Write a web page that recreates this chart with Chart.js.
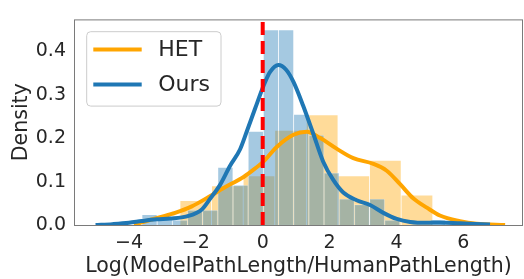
<!DOCTYPE html>
<html>
<head>
<meta charset="utf-8">
<script src="https://cdn.jsdelivr.net/npm/chart.js@4.4.0/dist/chart.umd.min.js"></script>
<style>
  html, body { margin: 0; padding: 0; background: #fff; }
  #wrap { width: 524px; height: 279px; }
</style>
</head>
<body>
<div id="wrap"><canvas id="chart" width="524" height="279"></canvas></div>
<script>
// Series names
const seriesNames = ['HET', 'Ours'];

// Histogram bin edges and densities
const hetEdges = [-2.474, -1.529, -0.584, 0.361, 1.306, 2.251, 3.196, 4.141, 5.086];
const hetDensity = [0.056, 0.090, 0.113, 0.218, 0.254, 0.113, 0.149, 0.069];

const oursEdges = [-3.612, -3.158, -2.704, -2.251, -1.797, -1.343, -0.889, -0.435, 0.018,
    0.472, 0.926, 1.380, 1.834, 2.287, 2.741, 3.195, 3.649, 4.103, 4.556, 5.010, 5.464];
const oursDensity = [0.024, 0.013, 0.011, 0.034, 0.034, 0.133, 0.092, 0.216, 0.450, 0.450,
    0.255, 0.207, 0.120, 0.060, 0.047, 0.060, 0.011, 0, 0, 0.011];

// KDE curves
const hetKdeX = [-3.85, -3.62, -3.07, -2.62, -2.12, -1.63, -1.13, -0.63, -0.32, 0.02, 0.42, 0.92,
    1.32, 1.71, 2.21, 2.71, 3.31, 3.71, 4.11, 4.51, 4.91, 5.30, 5.90, 6.40, 7.25];
const hetKdeY = [0.0, 0.006, 0.018, 0.028, 0.043, 0.064, 0.087, 0.108, 0.125, 0.146, 0.180, 0.208,
    0.215, 0.201, 0.176, 0.154, 0.141, 0.125, 0.094, 0.061, 0.040, 0.022, 0.009, 0.003, 0.0];

const oursKdeX = [-5.0, -4.5, -4.0, -3.62, -3.17, -2.77, -2.27, -1.82, -1.58, -1.28, -0.98, -0.68,
    -0.48, -0.23, 0.02, 0.22, 0.47, 0.70, 0.92, 1.21, 1.51, 1.81, 2.11, 2.41, 2.81, 3.21, 3.61,
    4.01, 4.41, 4.91, 5.30, 5.90, 6.80];
const oursKdeY = [0.0, 0.002, 0.005, 0.009, 0.013, 0.015, 0.020, 0.036, 0.060, 0.092, 0.136, 0.174,
    0.215, 0.268, 0.320, 0.353, 0.369, 0.358, 0.330, 0.275, 0.211, 0.146, 0.104, 0.075, 0.057,
    0.046, 0.028, 0.014, 0.007, 0.005, 0.006, 0.004, 0.001];

// Reference line and axes
const refLineX = 0;
const xTicks = [-4, -2, 0, 2, 4, 6];
const yTicks = [0, 0.1, 0.2, 0.3, 0.4];
const xMin = -5.645, xMax = 7.786, yMax = 0.474;

const textColor = '#262626';
const font = 'DejaVu Sans';

function binBars(edges, dens) {
    return dens.map((d, i) => ({ x: (edges[i] + edges[i + 1]) / 2, y: d }));
}
function curve(xs, ys) {
    return xs.map((x, i) => ({ x: x, y: ys[i] }));
}

// Frame around the plot area
const frame = {
    id: 'frame',
    afterDatasetsDraw(chart) {
        const { ctx, chartArea: a } = chart;
        ctx.save();
        ctx.strokeStyle = '#7a7a7a';
        ctx.lineWidth = 1;
        ctx.strokeRect(a.left + 0.5, a.top + 0.5, a.right - a.left - 1, a.bottom - a.top);
        ctx.restore();
    }
};

// Legend drawn inside the plot, top left, in series order
const innerLegend = {
    id: 'innerLegend',
    afterDraw(chart) {
        const { ctx, chartArea: a } = chart;
        const items = seriesNames.map(n => chart.data.datasets.find(d => d.inLegend && d.label === n));
        const x0 = a.left + 12.7, y0 = a.top + 12.3;
        ctx.save();
        ctx.beginPath();
        ctx.roundRect(x0, y0, 134.3, 74.4, 4);
        ctx.fillStyle = 'rgba(255,255,255,0.8)';
        ctx.fill();
        ctx.strokeStyle = '#cccccc';
        ctx.lineWidth = 1;
        ctx.stroke();
        items.forEach((d, i) => {
            const cy = y0 + 17.7 + i * 35;
            ctx.beginPath();
            ctx.moveTo(x0 + 6.6, cy);
            ctx.lineTo(x0 + 55, cy);
            ctx.strokeStyle = d.borderColor;
            ctx.lineWidth = 4;
            ctx.stroke();
            ctx.fillStyle = textColor;
            ctx.font = '22px "' + font + '"';
            ctx.textBaseline = 'middle';
            ctx.fillText(d.label, x0 + 71.5, cy + 1);
        });
        ctx.restore();
    }
};

new Chart(document.getElementById('chart').getContext('2d'), {
    data: {
        datasets: [
            {
                type: 'line',
                label: 'ref',
                data: [{ x: refLineX, y: 0 }, { x: refLineX, y: yMax }],
                borderColor: '#ff0000',
                borderWidth: 4,
                borderDash: [13, 6],
                pointRadius: 0,
                order: 0
            },
            {
                type: 'line',
                label: seriesNames[1],
                inLegend: true,
                data: curve(oursKdeX, oursKdeY),
                borderColor: '#1f77b4',
                borderWidth: 4,
                pointRadius: 0,
                cubicInterpolationMode: 'monotone',
                order: 1
            },
            {
                type: 'line',
                label: seriesNames[0],
                inLegend: true,
                data: curve(hetKdeX, hetKdeY),
                borderColor: '#ffa500',
                borderWidth: 4,
                pointRadius: 0,
                cubicInterpolationMode: 'monotone',
                order: 2
            },
            {
                type: 'bar',
                label: seriesNames[1] + ' hist',
                data: binBars(oursEdges, oursDensity),
                xAxisID: 'x',
                backgroundColor: 'rgba(31,119,180,0.4)',
                borderColor: 'rgba(255,255,255,0.35)',
                borderWidth: 0.7,
                borderSkipped: 'start',
                barPercentage: 1,
                categoryPercentage: 1,
                grouped: false,
                order: 3
            },
            {
                type: 'bar',
                label: seriesNames[0] + ' hist',
                data: binBars(hetEdges, hetDensity),
                xAxisID: 'x2',
                backgroundColor: 'rgba(255,165,0,0.4)',
                borderColor: 'rgba(255,255,255,0.35)',
                borderWidth: 0.7,
                borderSkipped: 'start',
                barPercentage: 1,
                categoryPercentage: 1,
                grouped: false,
                order: 4
            }
        ]
    },
    options: {
        responsive: false,
        animation: false,
        layout: { padding: { top: 5, right: 1, left: 0, bottom: 0 } },
        plugins: {
            legend: { display: false },
            tooltip: { enabled: false }
        },
        scales: {
            x: {
                type: 'linear',
                min: xMin,
                max: xMax,
                offset: false,
                afterBuildTicks: s => { s.ticks = xTicks.map(v => ({ value: v })); },
                afterFit: s => { s.height = 54; },
                grid: { display: false, drawTicks: false, offset: false },
                border: { display: false },
                ticks: {
                    padding: 7,
                    color: textColor,
                    font: { family: font, size: 19 },
                    maxRotation: 0,
                    callback: v => (v < 0 ? '\u2212' + Math.abs(v) : String(v))
                },
                title: {
                    display: true,
                    text: 'Log(ModelPathLength/HumanPathLength)',
                    color: textColor,
                    font: { family: font, size: 20.5 },
                    padding: { top: 0, bottom: 0 }
                }
            },
            x2: {
                type: 'linear',
                display: false,
                min: xMin,
                max: xMax,
                offset: false,
                grid: { offset: false },
                afterBuildTicks: s => { s.ticks = xTicks.map(v => ({ value: v })); }
            },
            y: {
                type: 'linear',
                min: 0,
                max: yMax,
                afterBuildTicks: s => { s.ticks = yTicks.map(v => ({ value: v })); },
                afterFit: s => { s.width = 74; },
                grid: { display: false, drawTicks: false },
                border: { display: false },
                ticks: {
                    padding: 8,
                    color: textColor,
                    font: { family: font, size: 19 },
                    callback: v => v.toFixed(1)
                },
                title: {
                    display: true,
                    text: 'Density',
                    color: textColor,
                    font: { family: font, size: 20.5 },
                    padding: { top: 9, bottom: 0 }
                }
            }
        }
    },
    plugins: [frame, innerLegend]
});
</script>
</body>
</html>
